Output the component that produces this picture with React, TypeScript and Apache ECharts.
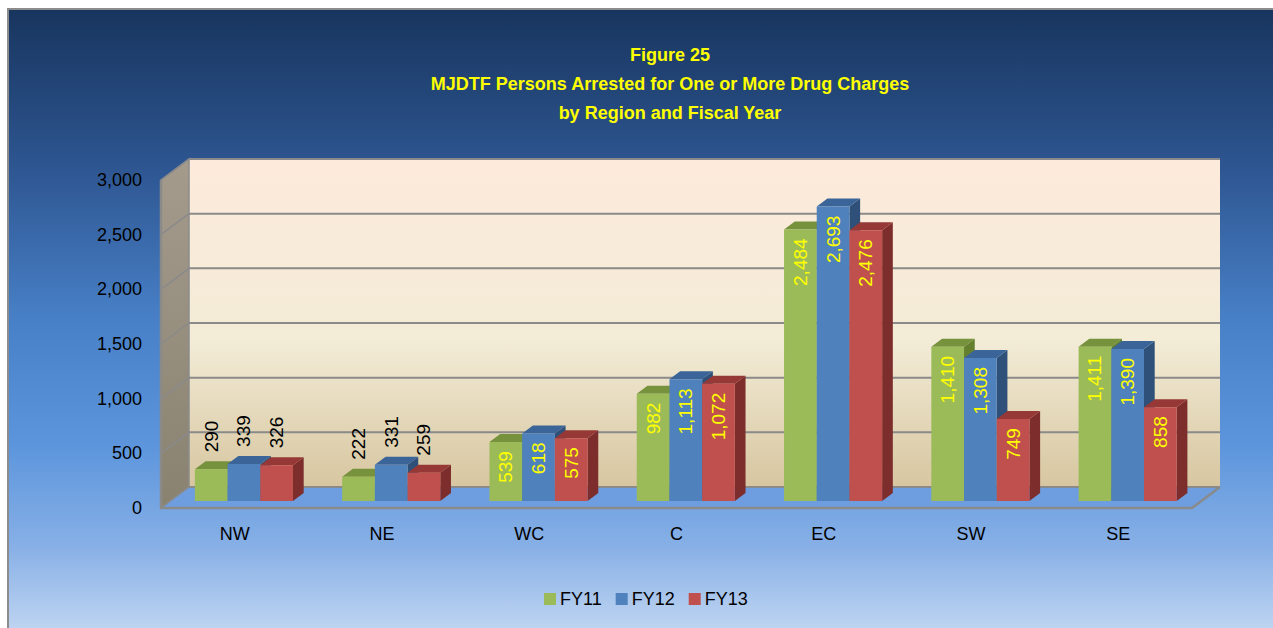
import React, { useEffect, useRef } from "react";
import * as echarts from "echarts";

// ---- data ----
const regions = ["NW", "NE", "WC", "C", "EC", "SW", "SE"];
const seriesNames = ["FY11", "FY12", "FY13"];
const fy11 = [290, 222, 539, 982, 2484, 1410, 1411];
const fy12 = [339, 331, 618, 1113, 2693, 1308, 1390];
const fy13 = [326, 259, 575, 1072, 2476, 749, 858];
const yTicks = [0, 500, 1000, 1500, 2000, 2500, 3000];
const titleLines = [
  "Figure 25",
  "MJDTF Persons Arrested for One or More Drug Charges",
  "by Region and Fiscal Year",
];

// ---- styles ----
const FONT = '"Liberation Sans", Arial, sans-serif';
const FRONT = ["#9bbb59", "#4f81bd", "#c0504d"];
const TOPC = ["#76923c", "#3b6599", "#963836"];
const SIDE = ["#64802f", "#2e5079", "#7d2e2c"];
const WALL_DX = 28;
const WALL_DY = 21;
const BAR_DX = 9.3;
const BAR_DY = 7;
const BAR_DEPTH_X = 10.7;
const BAR_DEPTH_Y = 8;
const BAR_FRAC = 0.222;
const INSIDE_MIN = 400;
const GRID_COLOR = "#8a8a8a";

const fmt = (v: number) => v.toLocaleString("en-US");

export default function App() {
  const ref = useRef<HTMLDivElement>(null);
  useEffect(() => {
    document.body.style.margin = "0";
    if (!ref.current) return;
    const chart = echarts.init(ref.current, undefined, { renderer: "svg" });
    const values = [fy11, fy12, fy13];

    const wallSeries: any = {
      type: "custom",
      silent: true,
      z: 1,
      data: [[0, 0]],
      encode: { x: 0, y: 1 },
      renderItem: (params: any, api: any) => {
        const cs = params.coordSys;
        const L = cs.x, R = cs.x + cs.width, T = cs.y, B = cs.y + cs.height;
        const children: any[] = [];
        children.push({
          type: "rect",
          shape: { x: L + WALL_DX, y: T - WALL_DY, width: R - L, height: B - T },
          style: {
            fill: new echarts.graphic.LinearGradient(0, 0, 0, 1, [
              { offset: 0, color: "#fdeadb" },
              { offset: 0.55, color: "#f3ecd7" },
              { offset: 1, color: "#d7c6a0" },
            ]),
          },
        });
        children.push({
          type: "polygon",
          shape: { points: [[L, T], [L + WALL_DX, T - WALL_DY], [L + WALL_DX, B - WALL_DY], [L, B]] },
          style: {
            fill: new echarts.graphic.LinearGradient(0, 0, 0, 1, [
              { offset: 0, color: "#a49b8d" },
              { offset: 1, color: "#8a8270" },
            ]),
            stroke: GRID_COLOR,
            lineWidth: 1.5,
          },
        });
        children.push({
          type: "polygon",
          shape: { points: [[L, B], [L + WALL_DX, B - WALL_DY], [R + WALL_DX, B - WALL_DY], [R, B]] },
          style: { fill: "#6f9ee0" },
        });
        yTicks.forEach((v) => {
          const y = api.coord([0, v])[1];
          children.push({
            type: "line",
            shape: { x1: L + WALL_DX, y1: y - WALL_DY, x2: R + WALL_DX, y2: y - WALL_DY },
            style: { stroke: GRID_COLOR, lineWidth: 2 },
          });
          children.push({
            type: "line",
            shape: { x1: L, y1: y, x2: L + WALL_DX, y2: y - WALL_DY },
            style: { stroke: GRID_COLOR, lineWidth: 1.5 },
          });
        });
        children.push({
          type: "polyline",
          shape: { points: [[L, T], [L, B], [R, B], [R + WALL_DX, B - WALL_DY]] },
          style: { stroke: GRID_COLOR, lineWidth: 2.5, fill: "none" },
        });
        return { type: "group", children };
      },
    };

    const barSeries = values.map((arr, k) => ({
      type: "custom",
      name: seriesNames[k],
      z: 3,
      itemStyle: { color: FRONT[k] },
      data: arr.map((v, i) => [i, v]),
      encode: { x: 0, y: 1 },
      renderItem: (params: any, api: any) => {
        const i = api.value(0);
        const v = api.value(1);
        const topP = api.coord([i, v]);
        const baseP = api.coord([i, 0]);
        const band = api.size([1, 0])[0];
        const w = band * BAR_FRAC;
        const x0 = topP[0] + (k - 1.5) * w + BAR_DX;
        const yT = topP[1] - BAR_DY;
        const yB = baseP[1] - BAR_DY;
        const dx = BAR_DEPTH_X, dy = BAR_DEPTH_Y;
        const inside = v >= INSIDE_MIN;
        return {
          type: "group",
          children: [
            {
              type: "polygon",
              shape: { points: [[x0 + w, yT], [x0 + w + dx, yT - dy], [x0 + w + dx, yB - dy], [x0 + w, yB]] },
              style: { fill: SIDE[k] },
            },
            {
              type: "polygon",
              shape: { points: [[x0, yT], [x0 + w, yT], [x0 + w + dx, yT - dy], [x0 + dx, yT - dy]] },
              style: { fill: TOPC[k] },
            },
            {
              type: "rect",
              shape: { x: x0, y: yT, width: w, height: yB - yT },
              style: { fill: FRONT[k] },
            },
            {
              type: "text",
              x: x0 + w / 2,
              y: inside ? yT + 9 : yT - 17,
              rotation: Math.PI / 2,
              style: {
                text: fmt(v),
                fill: inside ? "#ffff00" : "#000000",
                font: `19px ${FONT}`,
                align: inside ? "right" : "left",
                verticalAlign: "middle",
              },
            },
          ],
        };
      },
    }));

    const option: any = {
      animation: false,
      backgroundColor: "#ffffff",
      graphic: [
        {
          type: "rect",
          z: -10,
          silent: true,
          shape: { x: 8, y: 9, width: 1320, height: 622 },
          style: {
            fill: new echarts.graphic.LinearGradient(0, 0, 0, 1, [
              { offset: 0, color: "#18355e" },
              { offset: 0.25, color: "#2d5590" },
              { offset: 0.5, color: "#4880c7" },
              { offset: 0.7, color: "#5c95dc" },
              { offset: 0.86, color: "#86afe6" },
              { offset: 1, color: "#bfd5f1" },
            ]),
            stroke: "#8c8c8c",
            lineWidth: 2,
          },
        },
        ...titleLines.map((t, idx) => ({
          type: "text",
          z: 10,
          x: 670,
          y: 55 + idx * 29,
          style: {
            text: t,
            fill: "#ffff00",
            font: `bold 18px ${FONT}`,
            align: "center",
            verticalAlign: "middle",
          },
        })),
      ],
      grid: { left: 161, right: 81, top: 180, bottom: 120 },
      xAxis: {
        type: "category",
        data: regions,
        axisLine: { show: false },
        axisTick: { show: false },
        splitLine: { show: false },
        axisLabel: { margin: 17, fontSize: 18, fontFamily: FONT, color: "#000" },
      },
      yAxis: {
        type: "value",
        min: 0,
        max: 3000,
        interval: 500,
        axisLine: { show: false },
        axisTick: { show: false },
        splitLine: { show: false },
        axisLabel: {
          margin: 19,
          fontSize: 18,
          fontFamily: FONT,
          color: "#000",
          formatter: (v: number) => fmt(v),
        },
      },
      legend: {
        data: seriesNames,
        icon: "rect",
        itemWidth: 12,
        itemHeight: 12,
        itemGap: 14,
        itemStyle: { borderWidth: 0 },
        left: 539,
        top: 585,
        textStyle: { fontSize: 18, fontFamily: FONT, color: "#000", padding: [0, 0, 0, -1] },
      },
      series: [wallSeries, ...barSeries],
    };
    chart.setOption(option);
    return () => chart.dispose();
  }, []);
  return <div ref={ref} style={{ width: 1273, height: 628 }} />;
}
